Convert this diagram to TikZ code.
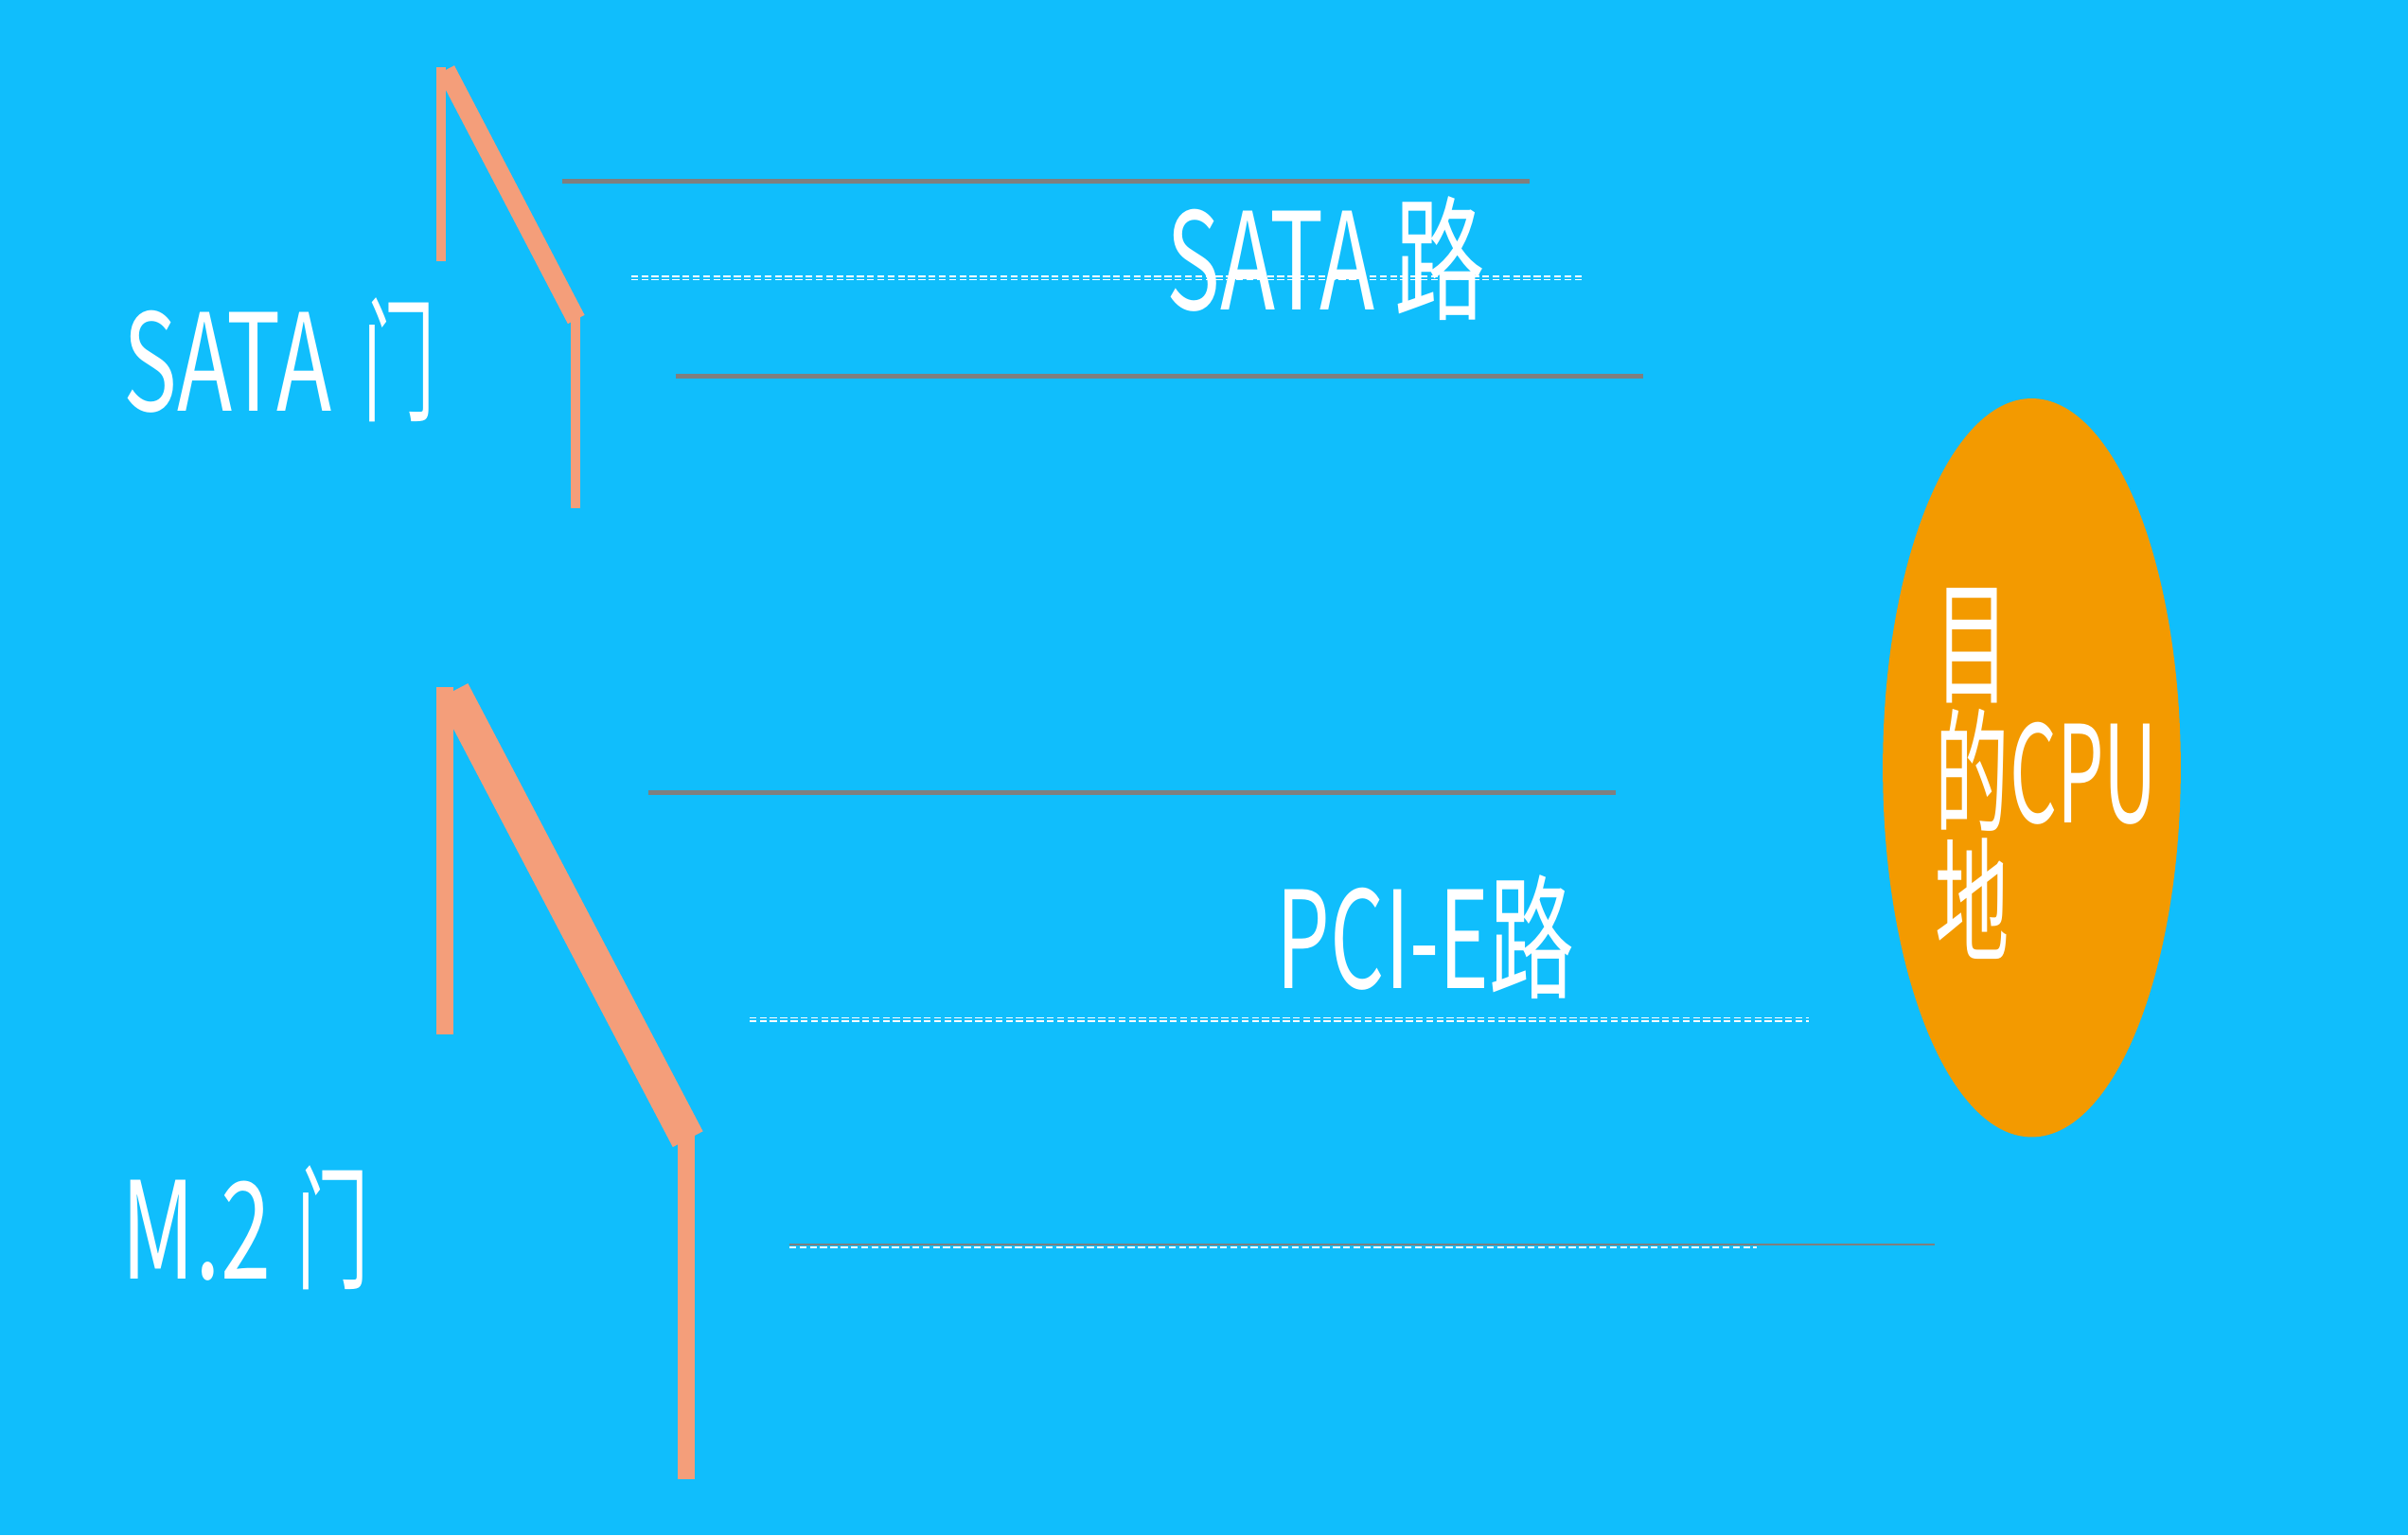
\documentclass[tikz,border=0pt]{standalone}
\usepackage{fontspec}
\setmainfont{Noto Sans CJK SC}
\usetikzlibrary{shapes.geometric, positioning}
\definecolor{skyblue}{HTML}{10BEFC}
\definecolor{doorpink}{HTML}{F49E7A}
\definecolor{cpuorange}{HTML}{F39A00}
\definecolor{roadgray}{HTML}{7F7F7F}
\newcommand{\slim}[1]{\scalebox{0.8}[1]{#1}}

\begin{document}
\begin{tikzpicture}[x=0.1mm, y=-0.1mm,
    lbl/.style={text=white, font=\fontsize{25}{24}\selectfont, inner sep=0pt, xscale=0.67},
    road/.style={draw=roadgray, line width=0.85pt},
    lane/.style={draw=white, line width=0.3pt, double=skyblue, double distance=0.3pt, dash pattern=on 1.3pt off 0.6pt},
    doorpost/.style={draw=doorpink, line width=#1},
    doorleaf/.style={draw=doorpink, line width=#1}]
    \fill[skyblue] (0,0) rectangle (1568,1000);
    \useasboundingbox (0,0) rectangle (1568,1000);

    % SATA door
    \draw[doorpost=1.76pt] (287,44) -- (287,170);
    \draw[doorpost=1.65pt] (374.7,205) -- (374.7,331);
    \draw[doorleaf=3.5pt] (290.4,45.5) -- (375.2,208);

    % M.2 door
    \draw[doorpost=3.1pt] (289.7,447.5) -- (289.7,673.4);
    \draw[doorpost=3.1pt] (447,737) -- (447,963.4);
    \draw[doorleaf=6.3pt] (294.9,450.2) -- (447.9,741.9);

    % Roads
    \draw[road] (366,118) -- (996,118);
    \draw[lane] (411,181) -- (1030,181);
    \draw[road] (440,245) -- (1070,245);

    \draw[road] (422,516) -- (1052,516);
    \draw[lane] (488,664) -- (1178,664);

    \draw[road, line width=0.5pt] (514,810.5) -- (1260,810.5);
    \draw[draw=white, line width=0.37pt, dash pattern=on 1.3pt off 0.6pt] (514,812.3) -- (1144,812.3);

    % Labels
    \node (sataDoor) [lbl, anchor=base west] at (80,268) {SATA \kern3pt\slim{门}};
    \node (m2Door) [lbl, anchor=base west] at (79,833) {M.2 \kern1.5pt\slim{门}};
    \node (sataRoad) [lbl, anchor=base west] at (759,202) {SATA 路};
    \node (pcieRoad) [lbl, xscale=0.94, anchor=base west] at (831,644) {PCI-E路};

    % Destination
    \node (cpu) [ellipse, fill=cpuorange, minimum width=19.4mm, minimum height=48.1mm, inner sep=0pt] at (1323,500) {};
    \node (cpuText) [lbl, xscale=0.82, align=left, anchor=west] at ([xshift=-6.3mm, yshift=-0.4mm]cpu.center) {目\\的CPU\\地};
\end{tikzpicture}
\end{document}
